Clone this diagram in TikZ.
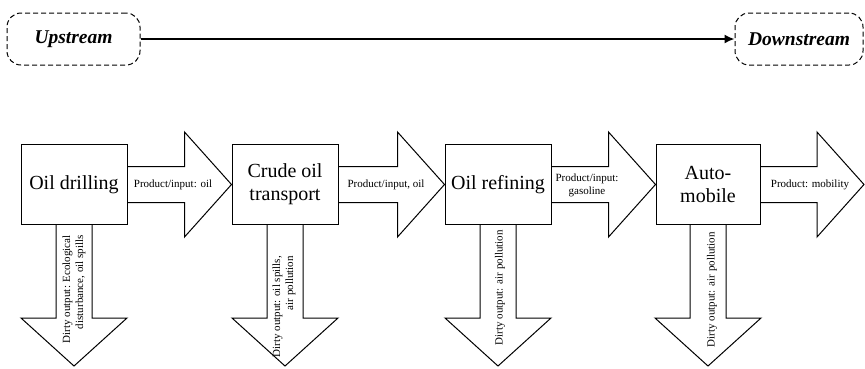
\documentclass[tikz,border=0pt]{standalone}
\usepackage{fontspec}
\setmainfont{Liberation Serif}
\usetikzlibrary{arrows.meta,calc,positioning}
\tikzstyle{stage}=[draw,line width=1pt,minimum width=106pt,minimum height=80pt,align=center,inner sep=1pt,font=\fontsize{20}{23}\selectfont]
\tikzstyle{stream}=[draw,dash pattern=on 5pt off 3pt,line width=1pt,rounded corners=14pt,minimum height=52pt,font=\fontsize{19.5}{22}\selectfont\bfseries\itshape]
\tikzstyle{flow}=[line width=1pt,line join=miter]
\tikzstyle{small}=[font=\fontsize{11}{13}\selectfont,inner sep=0pt]

\begin{document}
\begin{tikzpicture}[x=1pt,y=-1pt]
\useasboundingbox (0,0) rectangle (865,368);
      \node[stream,minimum width=133pt] (up) at (73.5,39) {Upstream};
      \node[stream,minimum width=128pt] (down) at (799,39) {Downstream};
      \draw[line width=1.6pt,-{Latex[length=10pt,width=9pt]}] (up) -- (down);

      \node[stage] (S1) at (74,184.5) {Oil drilling};
      \node[stage] (S2) at (285,184.5) {Crude oil\\transport};
      \node[stage] (S3) at (498,184.5) {Oil refining};
      \node[stage,minimum width=104pt] (S4) at (708,184.5) {Auto-\\mobile};

      \coordinate (tip1) at (S2.west);
      \coordinate (tip2) at (S3.west);
      \coordinate (tip3) at (S4.west);
      \coordinate (tip4) at (864,184.5);

% flows to the next stage
\foreach \a in {1,2,3,4}
      \draw[flow] ($(S\a.east)+(0,-18)$) -- ($(tip\a)+(-47,-18)$) -- ($(tip\a)+(-47,-52.5)$)
        -- (tip\a) -- ($(tip\a)+(-47,52.5)$) -- ($(tip\a)+(-47,18)$) -- ($(S\a.east)+(0,18)$);

% dirty outputs
\foreach \a in {1,2,3,4}
      \draw[flow] ($(S\a.south)+(-18,0)$) -- ++(0,93) -- ++(-35,0) -- ($(S\a.south)+(0,141)$)
        -- ($(S\a.south)+(53,93)$) -- ++(-35,0) -- ($(S\a.south)+(18,0)$);

      \node[small] (p1) at (173,185) {Product/input: oil};
      \node[small] (p2) at (386,185) {Product/input, oil};
      \node[small,align=center] (p3) at (587,185) {Product/input:\\gasoline};
      \node[small] (p4) at (810,185) {Product: mobility};

      \node[small,rotate=90,anchor=east,align=right] (o1) at (74,235) {Dirty output: Ecological\\disturbance, oil spills};
      \node[small,rotate=90,anchor=east,align=right] (o2) at (284,256) {Dirty output: oil spills,\\air pollution};
      \node[small,rotate=90,anchor=east] (o3) at (500,230) {Dirty output: air pollution};
      \node[small,rotate=90,anchor=east] (o4) at (712,232) {Dirty output: air pollution};
    \end{tikzpicture}
\end{document}
